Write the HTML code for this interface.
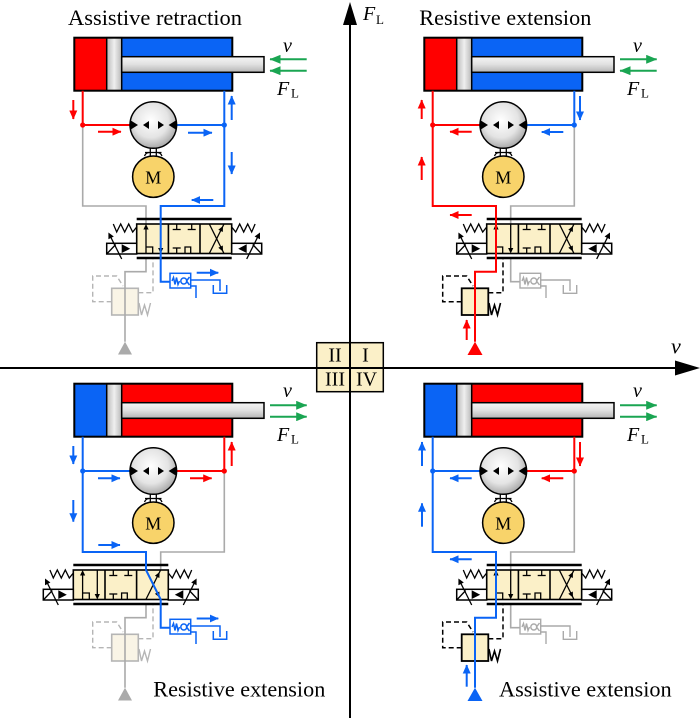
<!DOCTYPE html>
<html><head><meta charset="utf-8"><style>
html,body{margin:0;padding:0;background:#fff;}
svg{display:block;}
text{font-family:"Liberation Serif",serif;fill:#000;}
.r{stroke:#ff0000;stroke-width:2;fill:none;}
.b{stroke:#0a64f5;stroke-width:2;fill:none;}
.g{stroke:#aaaaaa;stroke-width:1.6;fill:none;}
.ga{stroke:#1aa552;stroke-width:2;fill:none;}
</style></head><body>
<svg width="700" height="718" viewBox="0 0 700 718" xmlns="http://www.w3.org/2000/svg">
<defs>
 <linearGradient id="rod" x1="0" y1="0" x2="0" y2="1">
  <stop offset="0" stop-color="#f6f6f6"/><stop offset="0.5" stop-color="#e0e0e0"/><stop offset="1" stop-color="#b5b5b5"/>
 </linearGradient>
 <linearGradient id="pist" x1="0" y1="0" x2="1" y2="0">
  <stop offset="0" stop-color="#b8b8b8"/><stop offset="0.5" stop-color="#efefef"/><stop offset="1" stop-color="#b8b8b8"/>
 </linearGradient>
 <radialGradient id="pump" cx="0.45" cy="0.4" r="0.62">
  <stop offset="0" stop-color="#ffffff"/><stop offset="0.6" stop-color="#e4e4e4"/><stop offset="1" stop-color="#a5a5a5"/>
 </radialGradient>
 <marker id="mR" viewBox="0 0 9 8" refX="8.5" refY="4" markerWidth="9" markerHeight="8" markerUnits="userSpaceOnUse" orient="auto"><path d="M0,0L9,4L0,8z" fill="#ff0000"/></marker>
 <marker id="mB" viewBox="0 0 9 8" refX="8.5" refY="4" markerWidth="9" markerHeight="8" markerUnits="userSpaceOnUse" orient="auto"><path d="M0,0L9,4L0,8z" fill="#0a64f5"/></marker>
 <marker id="mG" viewBox="0 0 11 9" refX="10.5" refY="4.5" markerWidth="11" markerHeight="9" markerUnits="userSpaceOnUse" orient="auto"><path d="M0,0L11,4.5L0,9z" fill="#1aa552"/></marker>

 <g id="valve">
  <line x1="0" y1="219" x2="95" y2="219" stroke="#000" stroke-width="2.5"/>
  <line x1="0" y1="258" x2="95" y2="258" stroke="#000" stroke-width="2.5"/>
  <rect x="0" y="224" width="95" height="29.5" fill="#fbf0c8" stroke="#000" stroke-width="1.6"/>
  <line x1="31.7" y1="224" x2="31.7" y2="253.5" stroke="#000" stroke-width="1.6"/>
  <line x1="63.3" y1="224" x2="63.3" y2="253.5" stroke="#000" stroke-width="1.6"/>
  <g stroke="#000" stroke-width="1.3" fill="none">
   <line x1="9.3" y1="253.5" x2="9.3" y2="229"/>
   <line x1="24" y1="224" x2="24" y2="248.5"/>
   <polyline points="9.3,247 16,247 16,253.5"/>
   <line x1="40" y1="224" x2="40" y2="229.5"/><line x1="36" y1="229.5" x2="44" y2="229.5"/>
   <line x1="55" y1="224" x2="55" y2="229.5"/><line x1="51" y1="229.5" x2="59" y2="229.5"/>
   <line x1="36" y1="248" x2="44" y2="248"/><line x1="40" y1="248" x2="40" y2="253.5"/>
   <polyline points="48.3,253.5 48.3,247 54,247 54,253.5"/>
   <line x1="72.6" y1="253.5" x2="87.3" y2="224"/>
   <line x1="72.6" y1="224" x2="87.3" y2="253.5"/>
   <polyline points="-23.4,224 -20,232 -16,224 -12,232 -8,224 -4,232 0,227"/>
   <polyline points="118.4,224 115,232 111,224 107,232 103,224 99,232 95,227"/>
  </g>
  <g fill="#000">
   <path d="M9.3,224 l-2.6,5.5 h5.2z"/>
   <path d="M24,253.5 l-2.6,-5.5 h5.2z"/>
   <path d="M86.3,226 L86.1,232 L81.6,229.8z"/>
   <path d="M86.3,251.5 L86.1,245.5 L81.6,247.7z"/>
  </g>
  <rect x="-30" y="243.3" width="30" height="10.7" fill="#fff" stroke="#000" stroke-width="1.5"/>
  <rect x="95" y="243.3" width="30" height="10.7" fill="#fff" stroke="#000" stroke-width="1.5"/>
  <g stroke="#000" stroke-width="1.3" fill="none">
   <line x1="-30" y1="254" x2="-21" y2="244.5"/>
   <line x1="-15" y1="259" x2="-26" y2="237"/>
   <line x1="125" y1="254" x2="116" y2="244.5"/>
   <line x1="110" y1="259" x2="121" y2="237"/>
  </g>
  <g fill="#000">
   <path d="M-15,244.3 L-6.5,248.7 L-15,253z"/>
   <path d="M110,244.3 L101.5,248.7 L110,253z"/>
   <path d="M-28.3,232.5 L-22.9,236.5 L-28.3,239.2z"/>
   <path d="M123.3,232.5 L117.9,236.5 L123.3,239.2z"/>
  </g>
 </g>

 <g id="relA" fill="none" stroke="#000">
  <rect x="111.7" y="288.3" width="26.6" height="26.7" fill="#fbf0c8" stroke-width="1.8"/>
  <polyline points="111.7,301.7 92.7,301.7 92.7,276 116.7,276 123,286" stroke-dasharray="5,3" stroke-width="1.5"/>
  <polyline points="138.3,292.7 153,292.7 153,259" stroke-dasharray="5,3" stroke-width="1.5"/>
  <polyline points="139,303 141.5,315 144.5,305 147.5,315 150.5,303" stroke-width="1.6"/>
 </g>
 <g id="relI" fill="none" stroke="#b5b5b5">
  <rect x="111.7" y="288.3" width="26.6" height="26.7" fill="#f9f4e6" stroke-width="1.6"/>
  <polyline points="111.7,301.7 92.7,301.7 92.7,276 116.7,276 123,286" stroke-dasharray="5,3" stroke-width="1.4"/>
  <polyline points="138.3,292.7 153,292.7 153,259" stroke-dasharray="5,3" stroke-width="1.4"/>
  <polyline points="139,303 141.5,315 144.5,305 147.5,315 150.5,303" stroke-width="1.4"/>
 </g>

 <g id="chkB" fill="none" stroke="#0a64f5" stroke-width="1.5">
  <rect x="170" y="273.3" width="20.7" height="14.7" fill="#fff"/>
  <polyline points="172,281 173.5,277.5 175,284.5 176.5,277.5 178,284.5 179.5,281"/>
  <circle cx="183.8" cy="281" r="3"/>
  <polyline points="189.5,277 186.5,281 189.5,285"/>
  <polyline points="190.7,280 220,280 220,291"/>
  <polyline points="213.3,285 213.3,293.3 226.7,293.3 226.7,285"/>
  <polyline points="190.7,286 196,286 196,298"/>
 </g>
 <g id="chkG" fill="none" stroke="#aaaaaa" stroke-width="1.4">
  <rect x="170" y="273.3" width="20.7" height="14.7" fill="#fff"/>
  <polyline points="172,281 173.5,277.5 175,284.5 176.5,277.5 178,284.5 179.5,281"/>
  <circle cx="183.8" cy="281" r="3"/>
  <polyline points="189.5,277 186.5,281 189.5,285"/>
  <polyline points="190.7,280 220,280 220,291"/>
  <polyline points="213.3,285 213.3,293.3 226.7,293.3 226.7,285"/>
  <polyline points="190.7,286 196,286 196,298"/>
 </g>

 <g id="pm">
  <g stroke="#000" stroke-width="1.3" fill="none">
   <line x1="150.3" y1="146" x2="150.3" y2="157"/>
   <line x1="156.3" y1="146" x2="156.3" y2="157"/>
   <line x1="145" y1="152.5" x2="161.5" y2="152.5"/>
   <path d="M144.5,156 q1.5,-3.5 4.5,-3.5"/>
   <path d="M162,156 q-1.5,-3.5 -4.5,-3.5"/>
  </g>
  <circle cx="153.3" cy="125" r="23.3" fill="url(#pump)" stroke="#000" stroke-width="1.5"/>
  <path d="M130,120 L138,125 L130,130z M143,125 L149,121 L149,129z M158,121 L164,125 L158,129z M176.6,120 L168.6,125 L176.6,130z" fill="#000"/>
  <circle cx="153.3" cy="176.7" r="20.7" fill="#f8d36a" stroke="#000" stroke-width="1.5"/>
 </g>
</defs>

<rect width="700" height="718" fill="#fff"/>

<!-- Q2 top-left -->
<g>
 <rect x="74.3" y="37.7" width="32.4" height="53" fill="#ff0000"/>
 <rect x="121.7" y="37.7" width="110.6" height="53" fill="#0a64f5"/>
 <rect x="106.7" y="37.7" width="15" height="53" fill="url(#pist)" stroke="#000" stroke-width="1.5"/>
 <rect x="74.3" y="37.7" width="158" height="53" fill="none" stroke="#000" stroke-width="2"/>
 <rect x="121.7" y="56.7" width="142.3" height="15.6" fill="url(#rod)" stroke="#000" stroke-width="1.5"/>
 <line class="ga" x1="306.7" y1="59.3" x2="270" y2="59.3" marker-end="url(#mG)"/>
 <line class="ga" x1="306.7" y1="70.7" x2="270" y2="70.7" marker-end="url(#mG)"/>
 <polyline class="g" points="82.7,125 82.7,206 146,206 146,224"/>
 <use href="#relI"/>
 <polyline class="g" points="146,258 146,271.7 125,271.7 125,341.7"/>
 <path d="M125,341.7 L118,354.5 L132,354.5z" fill="#aaaaaa"/>
 <use href="#valve" x="136.7"/>
 <use href="#chkB"/>
 <polyline class="b" points="224.3,90.7 224.3,206 160.7,206 160.7,281.7 170,281.7"/>
 <line class="b" x1="176.6" y1="125" x2="224.3" y2="125"/>
 <polyline class="r" points="82.7,90.7 82.7,125 130,125"/>
 <use href="#pm"/>
 <circle cx="82.7" cy="125" r="2.6" fill="#ff0000"/>
 <circle cx="224.3" cy="125" r="2.6" fill="#0a64f5"/>
 <line class="r" x1="73.3" y1="100" x2="73.3" y2="119" marker-end="url(#mR)"/>
 <line class="r" x1="98" y1="131.7" x2="121" y2="131.7" marker-end="url(#mR)"/>
 <line class="b" x1="231.7" y1="120" x2="231.7" y2="96" marker-end="url(#mB)"/>
 <line class="b" x1="188" y1="132.7" x2="212" y2="132.7" marker-end="url(#mB)"/>
 <line class="b" x1="231.7" y1="152" x2="231.7" y2="174" marker-end="url(#mB)"/>
 <line class="b" x1="213.3" y1="200" x2="191.7" y2="200" marker-end="url(#mB)"/>
 <line class="b" x1="196.7" y1="272.7" x2="218.3" y2="272.7" marker-end="url(#mB)"/>
 <text x="153.3" y="183.3" font-size="18" text-anchor="middle">M</text>
 <text x="283" y="52" font-size="20" font-style="italic">v</text>
 <text x="277" y="95" font-size="20" font-style="italic">F</text><text x="291" y="97.5" font-size="13">L</text>
</g>

<!-- Q1 top-right -->
<g transform="translate(350,0)">
 <rect x="74.3" y="37.7" width="32.4" height="53" fill="#ff0000"/>
 <rect x="121.7" y="37.7" width="110.6" height="53" fill="#0a64f5"/>
 <rect x="106.7" y="37.7" width="15" height="53" fill="url(#pist)" stroke="#000" stroke-width="1.5"/>
 <rect x="74.3" y="37.7" width="158" height="53" fill="none" stroke="#000" stroke-width="2"/>
 <rect x="121.7" y="56.7" width="142.3" height="15.6" fill="url(#rod)" stroke="#000" stroke-width="1.5"/>
 <line class="ga" x1="270" y1="59.3" x2="306.7" y2="59.3" marker-end="url(#mG)"/>
 <line class="ga" x1="306.7" y1="70.7" x2="270" y2="70.7" marker-end="url(#mG)"/>
 <polyline class="g" points="224.3,125 224.3,206 160.7,206 160.7,224"/>
 <polyline class="g" points="160.7,258 160.7,281.7 170,281.7"/>
 <use href="#chkG"/>
 <use href="#relA"/>
 <use href="#valve" x="136.7"/>
 <polyline class="r" points="82.7,90.7 82.7,206 146,206 146,271.7 125,271.7 125,341.7"/>
 <line class="r" x1="82.7" y1="125" x2="130" y2="125"/>
 <path d="M125,341.7 L117.5,355 L132.5,355z" fill="#ff0000"/>
 <polyline class="b" points="224.3,90.7 224.3,125 176.6,125"/>
 <use href="#pm"/>
 <circle cx="82.7" cy="125" r="2.6" fill="#ff0000"/>
 <circle cx="224.3" cy="125" r="2.6" fill="#0a64f5"/>
 <line class="r" x1="71.7" y1="119" x2="71.7" y2="100" marker-end="url(#mR)"/>
 <line class="r" x1="121.7" y1="131.7" x2="100" y2="131.7" marker-end="url(#mR)"/>
 <line class="b" x1="213.3" y1="132" x2="191.7" y2="132" marker-end="url(#mB)"/>
 <line class="b" x1="230" y1="96" x2="230" y2="120" marker-end="url(#mB)"/>
 <line class="r" x1="71.7" y1="180" x2="71.7" y2="157" marker-end="url(#mR)"/>
 <line class="r" x1="121.7" y1="215" x2="100" y2="215" marker-end="url(#mR)"/>
 <line class="r" x1="116.7" y1="340" x2="116.7" y2="320" marker-end="url(#mR)"/>
 <text x="153.3" y="183.3" font-size="18" text-anchor="middle">M</text>
 <text x="283" y="52" font-size="20" font-style="italic">v</text>
 <text x="277" y="95" font-size="20" font-style="italic">F</text><text x="291" y="97.5" font-size="13">L</text>
</g>

<!-- Q3 bottom-left -->
<g transform="translate(0,346)">
 <rect x="74.3" y="37.7" width="32.4" height="53" fill="#0a64f5"/>
 <rect x="121.7" y="37.7" width="110.6" height="53" fill="#ff0000"/>
 <rect x="106.7" y="37.7" width="15" height="53" fill="url(#pist)" stroke="#000" stroke-width="1.5"/>
 <rect x="74.3" y="37.7" width="158" height="53" fill="none" stroke="#000" stroke-width="2"/>
 <rect x="121.7" y="56.7" width="142.3" height="15.6" fill="url(#rod)" stroke="#000" stroke-width="1.5"/>
 <line class="ga" x1="270" y1="59.3" x2="306.7" y2="59.3" marker-end="url(#mG)"/>
 <line class="ga" x1="270" y1="70.7" x2="306.7" y2="70.7" marker-end="url(#mG)"/>
 <polyline class="g" points="224.3,125 224.3,206 160.7,206 160.7,224"/>
 <use href="#relI"/>
 <polyline class="g" points="146,258 146,271.7 125,271.7 125,341.7"/>
 <path d="M125,341.7 L118,354.5 L132,354.5z" fill="#aaaaaa"/>
 <use href="#valve" x="73.3"/>
 <use href="#chkB"/>
 <polyline class="b" points="82.7,90.7 82.7,206 146,206 146,224 160.7,253.5 160.7,281.7 170,281.7"/>
 <line class="b" x1="82.7" y1="125" x2="130" y2="125"/>
 <polyline class="r" points="224.3,90.7 224.3,125 176.6,125"/>
 <use href="#pm"/>
 <circle cx="82.7" cy="125" r="2.6" fill="#0a64f5"/>
 <circle cx="224.3" cy="125" r="2.6" fill="#ff0000"/>
 <line class="b" x1="73.3" y1="100" x2="73.3" y2="118" marker-end="url(#mB)"/>
 <line class="b" x1="98" y1="132.3" x2="120" y2="132.3" marker-end="url(#mB)"/>
 <line class="r" x1="190" y1="132.3" x2="211.7" y2="132.3" marker-end="url(#mR)"/>
 <line class="r" x1="231.7" y1="120" x2="231.7" y2="96" marker-end="url(#mR)"/>
 <line class="b" x1="73.3" y1="154" x2="73.3" y2="175.7" marker-end="url(#mB)"/>
 <line class="b" x1="98.3" y1="199" x2="120" y2="199" marker-end="url(#mB)"/>
 <line class="b" x1="196.7" y1="272.5" x2="218.3" y2="272.5" marker-end="url(#mB)"/>
 <text x="153.3" y="183.3" font-size="18" text-anchor="middle">M</text>
 <text x="283" y="51" font-size="20" font-style="italic">v</text>
 <text x="277" y="95" font-size="20" font-style="italic">F</text><text x="291" y="97.5" font-size="13">L</text>
</g>

<!-- Q4 bottom-right -->
<g transform="translate(350,346)">
 <rect x="74.3" y="37.7" width="32.4" height="53" fill="#0a64f5"/>
 <rect x="121.7" y="37.7" width="110.6" height="53" fill="#ff0000"/>
 <rect x="106.7" y="37.7" width="15" height="53" fill="url(#pist)" stroke="#000" stroke-width="1.5"/>
 <rect x="74.3" y="37.7" width="158" height="53" fill="none" stroke="#000" stroke-width="2"/>
 <rect x="121.7" y="56.7" width="142.3" height="15.6" fill="url(#rod)" stroke="#000" stroke-width="1.5"/>
 <line class="ga" x1="270" y1="59.3" x2="306.7" y2="59.3" marker-end="url(#mG)"/>
 <line class="ga" x1="270" y1="70.7" x2="306.7" y2="70.7" marker-end="url(#mG)"/>
 <polyline class="g" points="224.3,125 224.3,206 160.7,206 160.7,224"/>
 <polyline class="g" points="160.7,258 160.7,281.7 170,281.7"/>
 <use href="#chkG"/>
 <use href="#relA"/>
 <use href="#valve" x="136.7"/>
 <polyline class="b" points="82.7,90.7 82.7,206 146,206 146,271.7 125,271.7 125,341.7"/>
 <line class="b" x1="82.7" y1="125" x2="130" y2="125"/>
 <path d="M125,341.7 L117.5,355 L132.5,355z" fill="#0a64f5"/>
 <polyline class="r" points="224.3,90.7 224.3,125 176.6,125"/>
 <use href="#pm"/>
 <circle cx="82.7" cy="125" r="2.6" fill="#0a64f5"/>
 <circle cx="224.3" cy="125" r="2.6" fill="#ff0000"/>
 <line class="b" x1="72" y1="120" x2="72" y2="96" marker-end="url(#mB)"/>
 <line class="b" x1="121.7" y1="132.3" x2="100" y2="132.3" marker-end="url(#mB)"/>
 <line class="r" x1="213.3" y1="132.3" x2="191.7" y2="132.3" marker-end="url(#mR)"/>
 <line class="r" x1="230" y1="96" x2="230" y2="120" marker-end="url(#mR)"/>
 <line class="b" x1="72" y1="180.7" x2="72" y2="157.3" marker-end="url(#mB)"/>
 <line class="b" x1="121.7" y1="213.3" x2="100" y2="213.3" marker-end="url(#mB)"/>
 <line class="b" x1="116.7" y1="340.7" x2="116.7" y2="319" marker-end="url(#mB)"/>
 <text x="153.3" y="183.3" font-size="18" text-anchor="middle">M</text>
 <text x="283" y="51" font-size="20" font-style="italic">v</text>
 <text x="277" y="95" font-size="20" font-style="italic">F</text><text x="291" y="97.5" font-size="13">L</text>
</g>

<!-- titles -->
<text x="68" y="25" font-size="22" textLength="174" lengthAdjust="spacingAndGlyphs">Assistive retraction</text>
<text x="419.3" y="25" font-size="22" textLength="172" lengthAdjust="spacingAndGlyphs">Resistive extension</text>
<text x="153.3" y="696.5" font-size="22" textLength="172" lengthAdjust="spacingAndGlyphs">Resistive extension</text>
<text x="499" y="696.5" font-size="22" textLength="172.7" lengthAdjust="spacingAndGlyphs">Assistive extension</text>

<!-- quadrant table and axes -->
<rect x="316.7" y="342.7" width="66.6" height="49" fill="#fbf0c8" stroke="#000" stroke-width="1.5"/>
<line x1="350" y1="20" x2="350" y2="718" stroke="#000" stroke-width="2"/>
<path d="M350,2 L343,25 L357,25z" fill="#000"/>
<line x1="0" y1="368" x2="678" y2="368" stroke="#000" stroke-width="2"/>
<path d="M700,368 L675,360.5 L675,375.5z" fill="#000"/>
<text x="335" y="361.5" font-size="20" text-anchor="middle">II</text>
<text x="365.5" y="361.5" font-size="20" text-anchor="middle">I</text>
<text x="335" y="385.7" font-size="20" text-anchor="middle">III</text>
<text x="366.5" y="385.7" font-size="20" text-anchor="middle">IV</text>
<text x="363" y="20" font-size="20" font-style="italic">F</text><text x="376" y="24" font-size="13">L</text>
<text x="671" y="353.5" font-size="22" font-style="italic">v</text>
</svg>
</body></html>
